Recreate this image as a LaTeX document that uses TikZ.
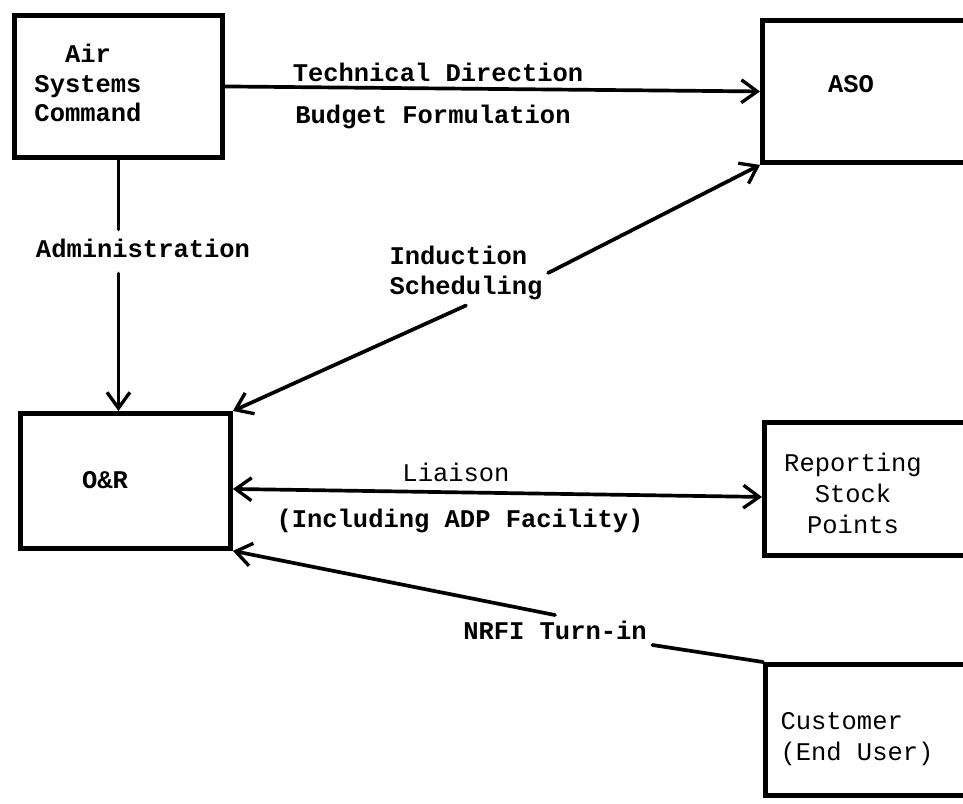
\documentclass[tikz,border=0pt]{standalone}
\usepackage{fontspec}
\setmonofont{Liberation Mono}
\usepackage{tikz}
\usetikzlibrary{arrows.meta}

\begin{document}
\begin{tikzpicture}[x=0.02cm,y=-0.02cm,
  font=\ttfamily\bfseries\fontsize{14.5}{17}\selectfont,
  box/.style={draw,line width=2.8pt,anchor=north west,inner sep=0pt},
  lbl/.style={inner sep=3pt},
  light/.style={font=\ttfamily\fontsize{14.5}{17.6}\selectfont},
  conn/.style={line width=2.1pt,line cap=round},
  barb/.tip={Straight Barb[length=9pt,width=13pt,line width=1.9pt]}]
\useasboundingbox (0,0) rectangle (963,804);
\clip (0,0) rectangle (963,804);

% boxes
\node[box,minimum width=4.16cm,minimum height=2.84cm] (asc) at (12,13) {};
\node[box,minimum width=4.6cm,minimum height=2.84cm] (aso) at (760,18) {};
\node[box,minimum width=4.2cm,minimum height=2.7cm] (onr) at (18,411) {};
\node[box,minimum width=4.56cm,minimum height=2.66cm] (rsp) at (762,420) {};
\node[box,minimum width=4.54cm,minimum height=2.62cm] (cust) at (763,662) {};

\node[lbl,align=center] (asclbl) at (88,83) {Air\\Systems\\Command};
\node[lbl] (asolbl) at (851,84) {ASO};
\node[lbl] (onrlbl) at (105,480) {O\&R};
\node[lbl,light,align=center] (rsplbl) at (853,493) {Reporting\\Stock\\Points};
\node[lbl,light,align=left] (custlbl) at (857,739) {Customer\\(End User)};

% labels on the connectors
\node[lbl] (techdir) at (438,72) {Technical Direction};
\node[lbl] (budget) at (433,117) {Budget Formulation};
\node[lbl] (adm) at (143,248) {Administration};
\node[lbl,align=left] (ind) at (466,273) {Induction\\Scheduling};
\node[lbl,light] (liaison) at (456,472) {Liaison};
\node[lbl] (adp) at (460,521) {(Including ADP Facility)};
\node[lbl] (nrfi) at (555,630) {NRFI Turn-in};

% connectors
\draw[conn,-barb] (asc.east) -- (aso.west);
\draw[conn] (asc.south) -- ([yshift=2pt]asc.south |- adm.north);
\draw[conn,-barb] ([yshift=-6pt]asc.south |- adm.south) -- (asc.south |- onr.north);
\draw[conn,barb-] (onr.north east) -- (ind.south);
\draw[conn,-barb] (ind.east) -- (aso.south west);
\draw[conn,barb-barb] ([yshift=-0.16cm]onr.east) -- ([yshift=-0.16cm]rsp.west);
\draw[conn,barb-] (onr.south east) -- (nrfi.north);
\draw[conn] (nrfi.south east) -- (cust.north west);
\end{tikzpicture}
\end{document}
